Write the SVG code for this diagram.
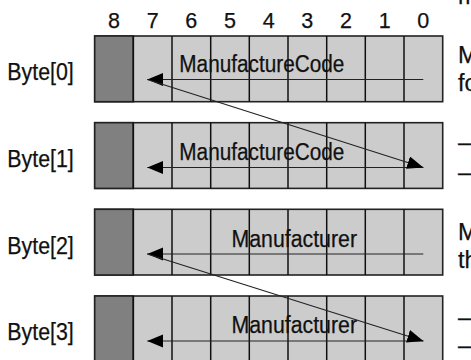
<svg xmlns="http://www.w3.org/2000/svg" width="471" height="360" viewBox="0 0 471 360">
<style>
  text { font-family: "Liberation Sans Narrow", "Liberation Sans", Arial, sans-serif; fill: #111; stroke: #111; stroke-width: 0.25; }
  .lbl { font-size: 23.5px; }
  .hdr { font-size: 21.5px; text-anchor: middle; }
  .cell { fill: #cccccc; stroke: #222; stroke-width: 1.6; }
  .msb { fill: #808080; stroke: #222; stroke-width: 1.6; }
  .div { stroke: #111; stroke-width: 1.5; }
  .arr { stroke: #222; stroke-width: 1.1; fill: none; marker-end: url(#ah); }
</style>
<defs>
  <marker id="ah" markerUnits="userSpaceOnUse" markerWidth="17" markerHeight="14" refX="16" refY="6.5" orient="auto">
    <path d="M0,0 L16,6.5 L0,13 z" fill="#000"/>
  </marker>
  <g id="grid">
    <rect class="cell" x="94.7" y="0" width="348" height="65.7"/>
    <rect class="msb" x="94.7" y="0" width="38.6" height="65.7"/>
    <path class="div" d="M133.3,0V65.7M172,0V65.7M210.7,0V65.7M249.3,0V65.7M288,0V65.7M326.7,0V65.7M365.3,0V65.7M404,0V65.7"/>
  </g>
</defs>

<g id="header">
  <text class="hdr" x="114" y="28.3">8</text>
  <text class="hdr" x="152.7" y="28.3">7</text>
  <text class="hdr" x="191.3" y="28.3">6</text>
  <text class="hdr" x="230" y="28.3">5</text>
  <text class="hdr" x="268.7" y="28.3">4</text>
  <text class="hdr" x="307.3" y="28.3">3</text>
  <text class="hdr" x="346" y="28.3">2</text>
  <text class="hdr" x="384.7" y="28.3">1</text>
  <text class="hdr" x="423.3" y="28.3">0</text>
</g>

<g id="byte0">
  <text class="lbl" x="7.3" y="80.3" textLength="66.5" lengthAdjust="spacingAndGlyphs">Byte[0]</text>
  <use href="#grid" transform="translate(0,36)"/>
  <text class="lbl" x="179.3" y="72" textLength="165" lengthAdjust="spacingAndGlyphs">ManufactureCode</text>
</g>
<g id="byte1">
  <text class="lbl" x="7.3" y="167" textLength="66.5" lengthAdjust="spacingAndGlyphs">Byte[1]</text>
  <use href="#grid" transform="translate(0,122.7)"/>
  <text class="lbl" x="179.3" y="159.5" textLength="165" lengthAdjust="spacingAndGlyphs">ManufactureCode</text>
</g>
<g id="byte2">
  <text class="lbl" x="7.3" y="253.5" textLength="66.5" lengthAdjust="spacingAndGlyphs">Byte[2]</text>
  <use href="#grid" transform="translate(0,209.3)"/>
  <text class="lbl" x="231.5" y="246.7" textLength="125.5" lengthAdjust="spacingAndGlyphs">Manufacturer</text>
</g>
<g id="byte3">
  <text class="lbl" x="7.3" y="340.2" textLength="66.5" lengthAdjust="spacingAndGlyphs">Byte[3]</text>
  <use href="#grid" transform="translate(0,296)"/>
  <text class="lbl" x="231.5" y="333.3" textLength="125.5" lengthAdjust="spacingAndGlyphs">Manufacturer</text>
</g>

<g id="connectors">
  <line class="arr" x1="423.3" y1="79.5" x2="147.3" y2="79.5"/>
  <line class="arr" x1="423.3" y1="167.5" x2="147.3" y2="167.5"/>
  <line class="arr" x1="423.3" y1="254" x2="147.3" y2="254"/>
  <line class="arr" x1="423.3" y1="341" x2="147.3" y2="341"/>
  <line class="arr" x1="147.3" y1="79.5" x2="423.3" y2="167.5"/>
  <line class="arr" x1="147.3" y1="254" x2="423.3" y2="341"/>
</g>

<g id="side-notes">
  <text class="lbl" x="458" y="3.5">m</text>
  <text class="lbl" x="458" y="63">M</text>
  <text class="lbl" x="458" y="91">fo</text>
  <text class="lbl" x="458" y="150">–</text>
  <text class="lbl" x="458" y="180">–</text>
  <text class="lbl" x="458" y="240">M</text>
  <text class="lbl" x="458" y="268">th</text>
  <text class="lbl" x="458" y="325">–</text>
  <text class="lbl" x="458" y="353">–</text>
</g>
</svg>
